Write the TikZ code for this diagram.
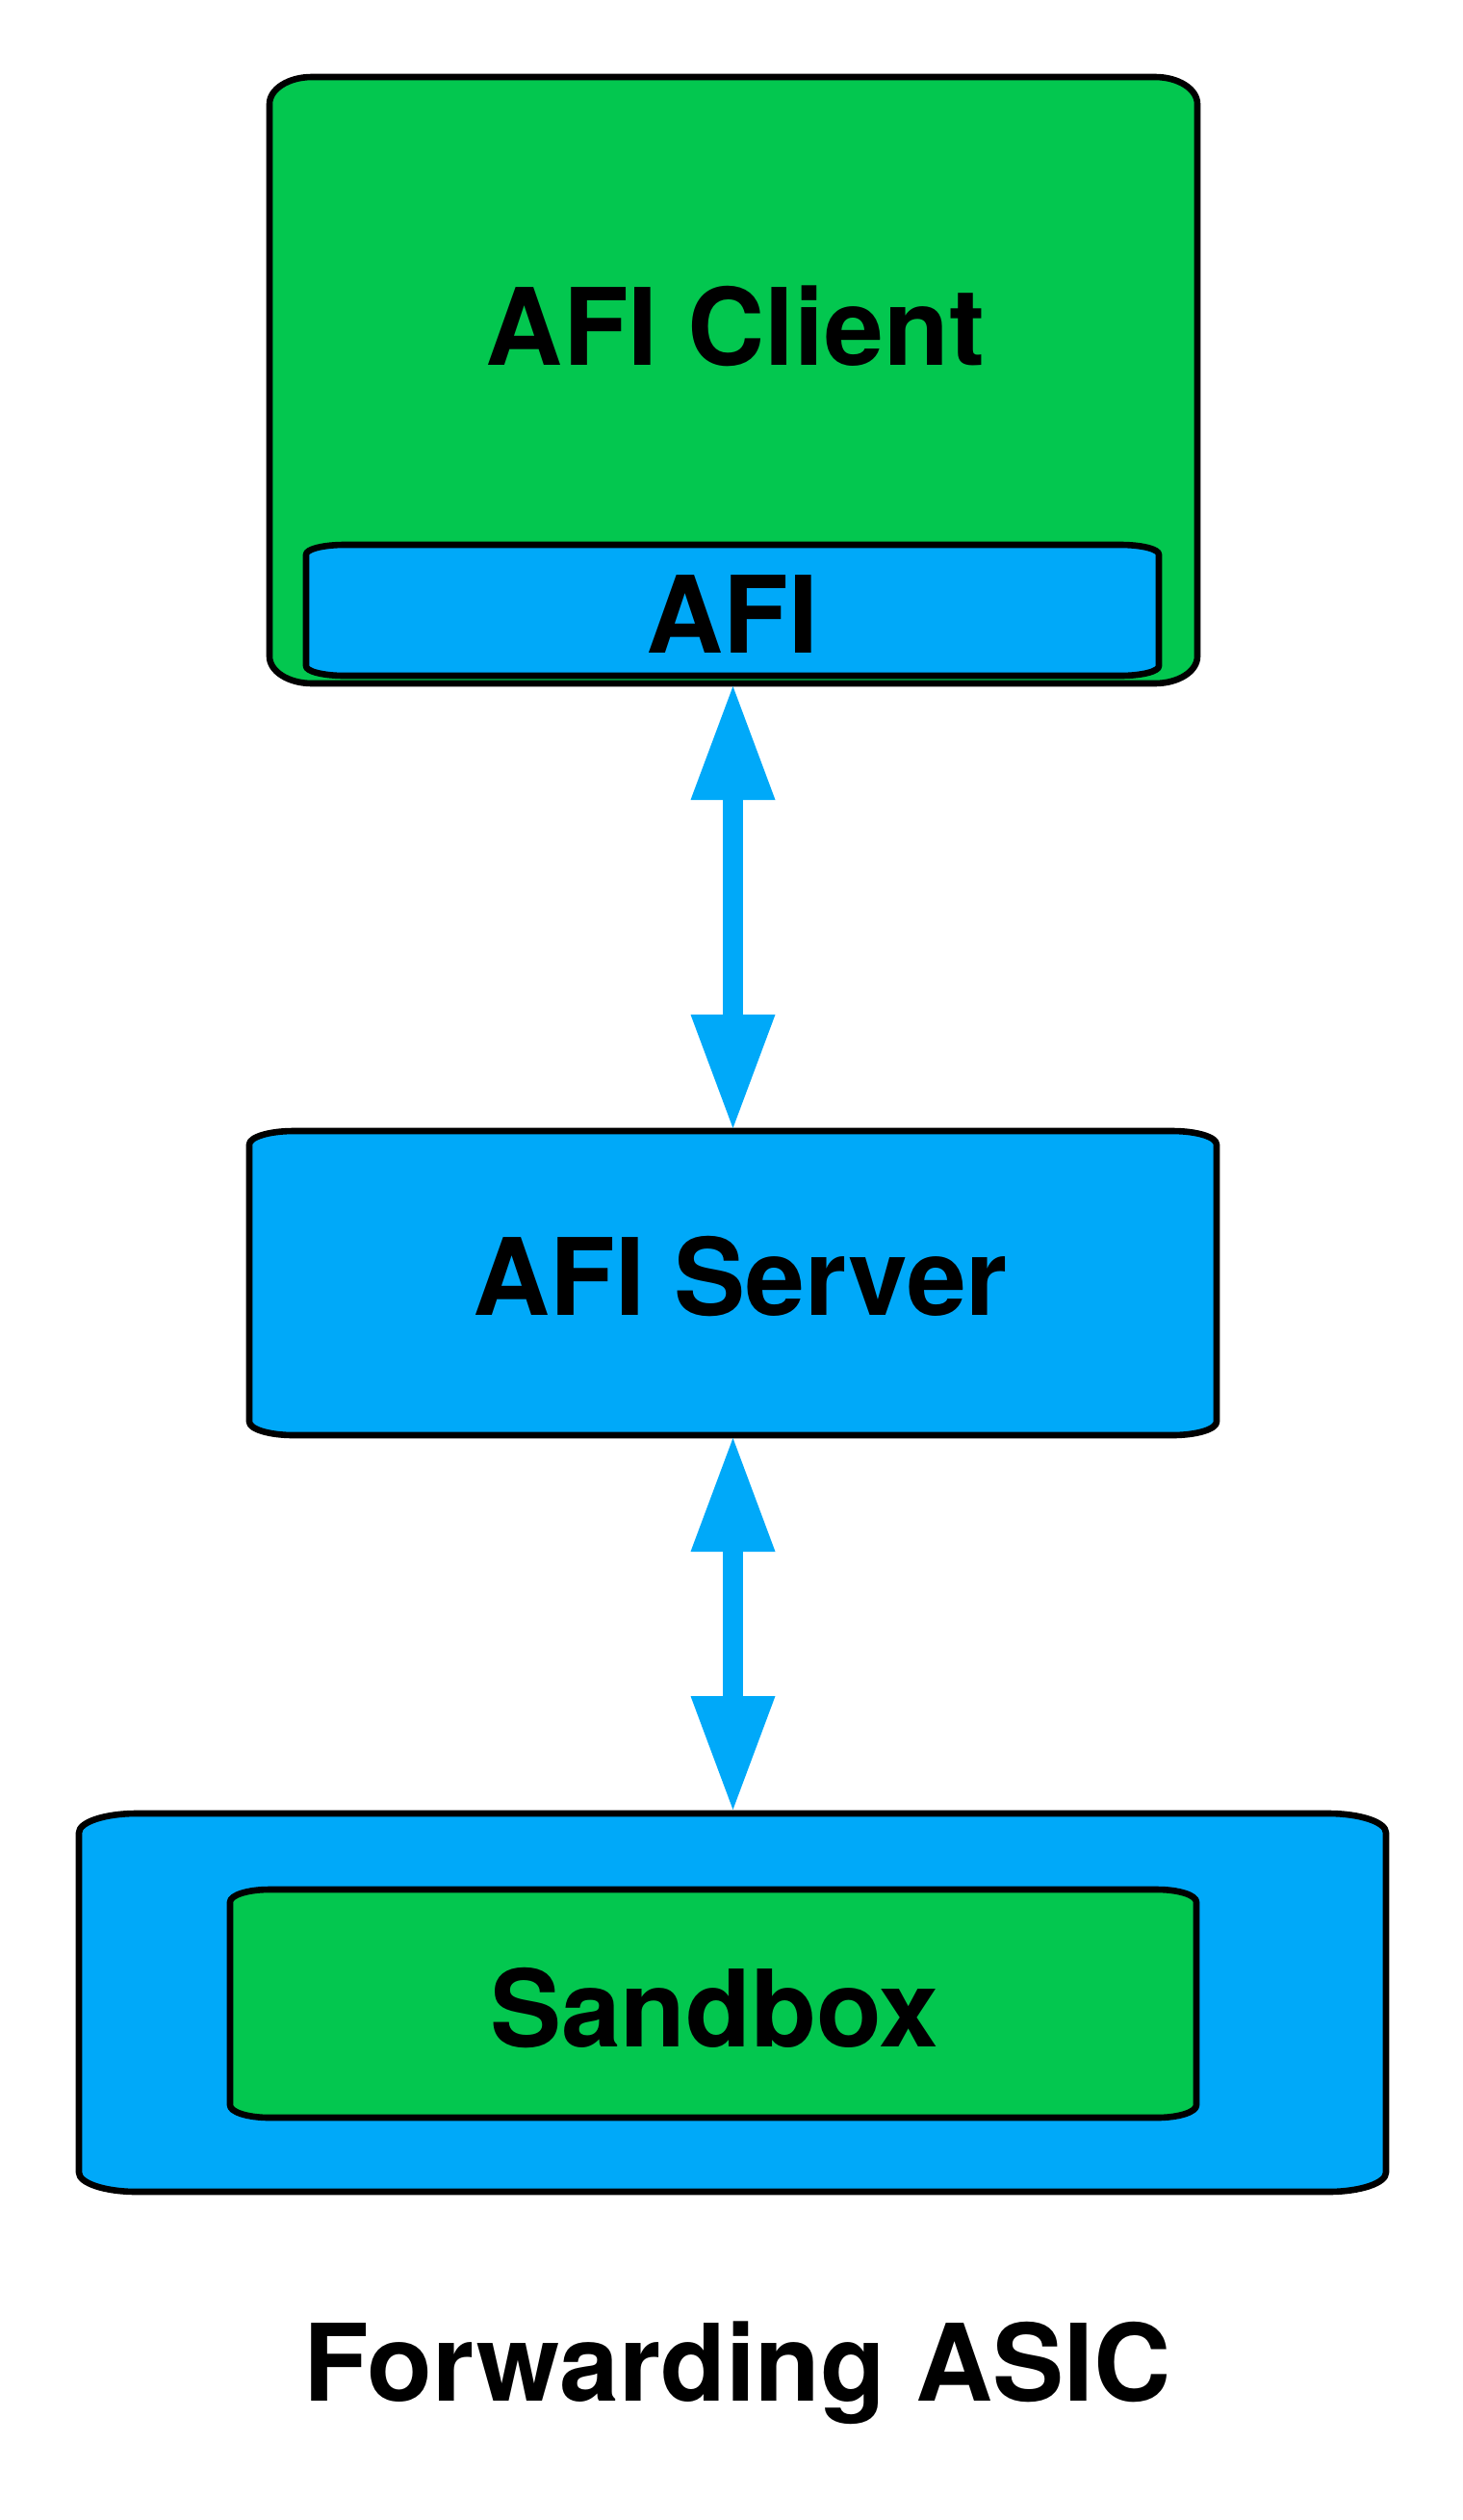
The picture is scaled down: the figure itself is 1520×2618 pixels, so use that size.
\documentclass[tikz,border=0pt]{standalone}
\usepackage{fontspec}
\setmainfont{TeX Gyre Heros}
\usetikzlibrary{arrows.meta}
\definecolor{boxgreen}{RGB}{3,199,79}
\definecolor{boxblue}{RGB}{0,169,249}
\newcommand\ellbox[7]{%
  \path[#7] (#1+#5,#2) -- (#3-#5,#2)
    .. controls (#3-0.4477*#5,#2) and (#3,#2+0.4477*#6) .. (#3,#2+#6)
    -- (#3,#4-#6)
    .. controls (#3,#4-0.4477*#6) and (#3-0.4477*#5,#4) .. (#3-#5,#4)
    -- (#1+#5,#4)
    .. controls (#1+0.4477*#5,#4) and (#1,#4-0.4477*#6) .. (#1,#4-#6)
    -- (#1,#2+#6)
    .. controls (#1,#2+0.4477*#6) and (#1+0.4477*#5,#2) .. (#1+#5,#2) -- cycle;}
\tikzset{
  outline/.style={draw=black, line width=3.3pt, line join=round},
  greenbox/.style={outline, fill=boxgreen},
  bluebox/.style={outline, fill=boxblue},
  label/.style={font=\fontsize{55.5pt}{66pt}\selectfont\bfseries, anchor=base, inner sep=0pt},
  biarrow/.style={draw=boxblue, line width=10.5pt,
    {Triangle[length=59pt,width=44pt,line width=0pt,fill=boxblue]}-{Triangle[length=59pt,width=44pt,line width=0pt,fill=boxblue]}}
}
\begin{document}
\begin{tikzpicture}[x=0.5pt,y=-0.5pt]
\useasboundingbox (0,0) rectangle (1520,2618);
% AFI Client
\ellbox{280}{80}{1244}{710}{44}{28}{greenbox}
\ellbox{318}{566}{1204}{702}{40}{10}{bluebox}
\node[label] (client) at (764,379) {AFI Client};
\node[label] (afi) at (761,678) {AFI};
% AFI Server
\ellbox{259}{1175}{1264}{1491}{46}{14}{bluebox}
\node[label] (server) at (769,1366) {AFI Server};
% Forwarding ASIC
\ellbox{82}{1884}{1440}{2277}{60}{20}{bluebox}
\ellbox{239}{1963}{1243}{2200}{41}{13}{greenbox}
\node[label] (sandbox) at (742,2126) {Sandbox};
\node[label] (asic) at (766,2494) {Forwarding ASIC};
% connectors
\coordinate (clientbot) at (761.5,713);
\coordinate (servertop) at (761.5,1172);
\coordinate (serverbot) at (761.5,1494);
\coordinate (asictop) at (761.5,1880);
\draw[biarrow] (clientbot) -- (servertop);
\draw[biarrow] (serverbot) -- (asictop);
\end{tikzpicture}
\end{document}
